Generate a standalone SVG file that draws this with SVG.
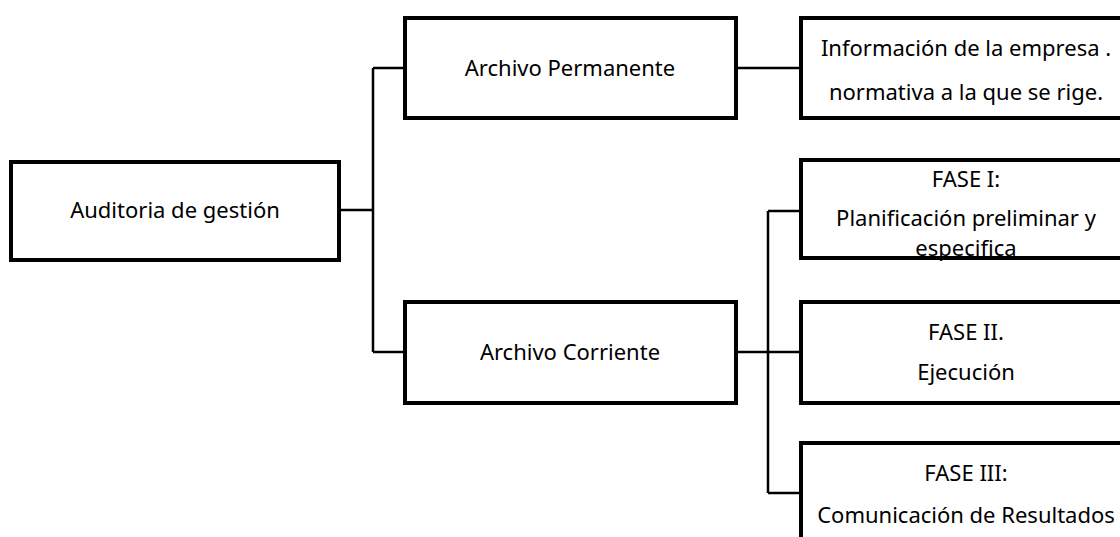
<svg xmlns="http://www.w3.org/2000/svg" width="1120" height="537" viewBox="0 0 1120 537">
<style>
.box{fill:#fff;stroke:#000;stroke-width:4}
.c{fill:none;stroke:#000;stroke-width:2.5}
text{font-family:"Noto Sans","Open Sans",sans-serif;font-size:22px;fill:#000;text-anchor:middle}
</style>
<rect width="1120" height="537" fill="#fff"/>
<g id="connectors">
<path class="c" d="M339 210 H373 M373 68 V352 M373 68 H405 M373 352 H405"/>
<path class="c" d="M736 68 H801"/>
<path class="c" d="M736 352 H801 M768 211 V493 M768 211 H801 M768 493 H801"/>
</g>
<g id="root"><rect class="box" x="11" y="162" width="328" height="98"/><text x="175" y="218">Auditoria de gestión</text></g>
<g id="permanente"><rect class="box" x="405" y="18" width="331" height="100"/><text x="570" y="76">Archivo Permanente</text></g>
<g id="corriente"><rect class="box" x="405" y="302" width="331" height="101"/><text x="570" y="360">Archivo Corriente</text></g>
<g id="informacion"><rect class="box" x="801" y="18" width="330" height="100"/><text x="966" y="56">Información de la empresa .</text><text x="966" y="100">normativa a la que se rige.</text></g>
<g id="fase1"><rect class="box" x="801" y="160" width="330" height="98"/><text x="966" y="187">FASE I:</text><text x="966" y="226">Planificación preliminar y</text><text x="966" y="256">especifica</text></g>
<g id="fase2"><rect class="box" x="801" y="302" width="330" height="101"/><text x="966" y="340">FASE II.</text><text x="966" y="380">Ejecución</text></g>
<g id="fase3"><rect class="box" x="801" y="443" width="330" height="110"/><text x="966" y="481">FASE III:</text><text x="966" y="523">Comunicación de Resultados</text></g>
</svg>
